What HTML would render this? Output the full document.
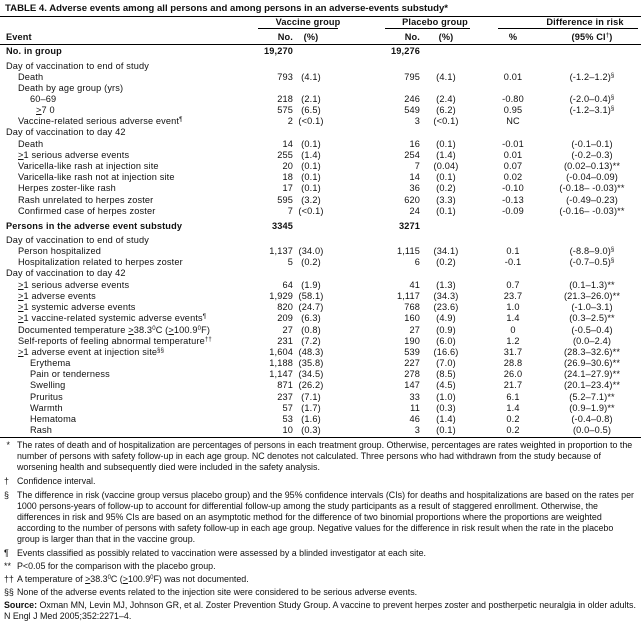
<!DOCTYPE html>
<html><head><meta charset="utf-8"><style>
body{margin:0;width:641px;height:613px;background:#fff;font-family:"Liberation Sans",Arial,sans-serif;color:#111;position:relative;overflow:hidden}
.t{position:absolute;left:5px;top:3px;font-size:9.6px;font-weight:bold;white-space:nowrap}
.hl{position:absolute;height:1px;background:#000}
.r{position:absolute;left:0;width:641px;height:11px;font-size:9.2px;letter-spacing:0.15px;line-height:11px;white-space:nowrap}
.r span{position:absolute;top:0}
.l{left:6px}.i1{left:18px}.i2{left:30px}
.vn{right:348px}.vp{left:291px;width:40px;text-align:center}
.pn{right:221px}.pp{left:426px;width:40px;text-align:center}
.dp{left:493px;width:40px;text-align:center}
.ci{left:552px;width:80px;text-align:center}
.b{font-weight:bold}
sup{font-size:6px;line-height:0;vertical-align:3px}
.fn{position:absolute;left:4px;width:634px;font-size:8.9px;line-height:11px}
.fn .m{position:absolute;left:0;top:0}
.fn .x{padding-left:13px;display:block}
</style></head><body>
<div class="t">TABLE 4. Adverse events among all persons and among persons in an adverse-events substudy*</div>
<div class="hl" style="left:0;width:641px;top:16px"></div>
<div class="r b" style="top:17px"><span style="left:258px;width:100px;text-align:center">Vaccine group</span><span style="left:385px;width:100px;text-align:center">Placebo group</span><span style="left:530px;width:110px;text-align:center">Difference in risk</span></div>
<div class="hl" style="left:258px;width:80px;top:28px"></div>
<div class="hl" style="left:385px;width:85px;top:28px"></div>
<div class="hl" style="left:498px;width:140px;top:28px"></div>
<div class="r b" style="top:32px"><span class="l">Event</span><span class="vn">No.</span><span class="vp">(%)</span><span class="pn">No.</span><span class="pp">(%)</span><span class="dp">%</span><span class="ci">(95% CI<sup>†</sup>)</span></div>
<div class="hl" style="left:0;width:641px;top:44px"></div>
<div class="r b" style="top:46px"><span class="l">No. in group</span><span class="vn">19,270</span><span class="pn">19,276</span></div>

<div class="r" style="top:61px"><span class="l">Day of vaccination to end of study</span></div>
<div class="r" style="top:72px"><span class="i1">Death</span><span class="vn">793</span><span class="vp">(4.1)</span><span class="pn">795</span><span class="pp">(4.1)</span><span class="dp">0.01</span><span class="ci">(-1.2–1.2)<sup>§</sup></span></div>
<div class="r" style="top:83px"><span class="i1">Death by age group (yrs)</span></div>
<div class="r" style="top:94px"><span class="i2">60–69</span><span class="vn">218</span><span class="vp">(2.1)</span><span class="pn">246</span><span class="pp">(2.4)</span><span class="dp">-0.80</span><span class="ci">(-2.0–0.4)<sup>§</sup></span></div>
<div class="r" style="top:105px"><span class="i2" style="left:36px"><u>&gt;</u>7 0</span><span class="vn">575</span><span class="vp">(6.5)</span><span class="pn">549</span><span class="pp">(6.2)</span><span class="dp">0.95</span><span class="ci">(-1.2–3.1)<sup>§</sup></span></div>
<div class="r" style="top:116px"><span class="i1">Vaccine-related serious adverse event<sup>¶</sup></span><span class="vn">2</span><span class="vp">(&lt;0.1)</span><span class="pn">3</span><span class="pp">(&lt;0.1)</span><span class="dp">NC</span></div>
<div class="r" style="top:127px"><span class="l">Day of vaccination to day 42</span></div>
<div class="r" style="top:139px"><span class="i1">Death</span><span class="vn">14</span><span class="vp">(0.1)</span><span class="pn">16</span><span class="pp">(0.1)</span><span class="dp">-0.01</span><span class="ci">(-0.1–0.1)</span></div>
<div class="r" style="top:150px"><span class="i1"><u>&gt;</u>1 serious adverse events</span><span class="vn">255</span><span class="vp">(1.4)</span><span class="pn">254</span><span class="pp">(1.4)</span><span class="dp">0.01</span><span class="ci">(-0.2–0.3)</span></div>
<div class="r" style="top:161px"><span class="i1">Varicella-like rash at injection site</span><span class="vn">20</span><span class="vp">(0.1)</span><span class="pn">7</span><span class="pp">(0.04)</span><span class="dp">0.07</span><span class="ci">(0.02–0.13)**</span></div>
<div class="r" style="top:172px"><span class="i1">Varicella-like rash not at injection site</span><span class="vn">18</span><span class="vp">(0.1)</span><span class="pn">14</span><span class="pp">(0.1)</span><span class="dp">0.02</span><span class="ci">(-0.04–0.09)</span></div>
<div class="r" style="top:183px"><span class="i1">Herpes zoster-like rash</span><span class="vn">17</span><span class="vp">(0.1)</span><span class="pn">36</span><span class="pp">(0.2)</span><span class="dp">-0.10</span><span class="ci">(-0.18– -0.03)**</span></div>
<div class="r" style="top:195px"><span class="i1">Rash unrelated to herpes zoster</span><span class="vn">595</span><span class="vp">(3.2)</span><span class="pn">620</span><span class="pp">(3.3)</span><span class="dp">-0.13</span><span class="ci">(-0.49–0.23)</span></div>
<div class="r" style="top:206px"><span class="i1">Confirmed case of herpes zoster</span><span class="vn">7</span><span class="vp">(&lt;0.1)</span><span class="pn">24</span><span class="pp">(0.1)</span><span class="dp">-0.09</span><span class="ci">(-0.16– -0.03)**</span></div>
<div class="r b" style="top:221px"><span class="l">Persons in the adverse event substudy</span><span class="vn">3345</span><span class="pn">3271</span></div>
<div class="r" style="top:235px"><span class="l">Day of vaccination to end of study</span></div>
<div class="r" style="top:246px"><span class="i1">Person hospitalized</span><span class="vn">1,137</span><span class="vp">(34.0)</span><span class="pn">1,115</span><span class="pp">(34.1)</span><span class="dp">0.1</span><span class="ci">(-8.8–9.0)<sup>§</sup></span></div>
<div class="r" style="top:257px"><span class="i1">Hospitalization related to herpes zoster</span><span class="vn">5</span><span class="vp">(0.2)</span><span class="pn">6</span><span class="pp">(0.2)</span><span class="dp">-0.1</span><span class="ci">(-0.7–0.5)<sup>§</sup></span></div>
<div class="r" style="top:268px"><span class="l">Day of vaccination to day 42</span></div>
<div class="r" style="top:280px"><span class="i1"><u>&gt;</u>1 serious adverse events</span><span class="vn">64</span><span class="vp">(1.9)</span><span class="pn">41</span><span class="pp">(1.3)</span><span class="dp">0.7</span><span class="ci">(0.1–1.3)**</span></div>
<div class="r" style="top:291px"><span class="i1"><u>&gt;</u>1 adverse events</span><span class="vn">1,929</span><span class="vp">(58.1)</span><span class="pn">1,117</span><span class="pp">(34.3)</span><span class="dp">23.7</span><span class="ci">(21.3–26.0)**</span></div>
<div class="r" style="top:302px"><span class="i1"><u>&gt;</u>1 systemic adverse events</span><span class="vn">820</span><span class="vp">(24.7)</span><span class="pn">768</span><span class="pp">(23.6)</span><span class="dp">1.0</span><span class="ci">(-1.0–3.1)</span></div>
<div class="r" style="top:313px"><span class="i1"><u>&gt;</u>1 vaccine-related systemic adverse events<sup>¶</sup></span><span class="vn">209</span><span class="vp">(6.3)</span><span class="pn">160</span><span class="pp">(4.9)</span><span class="dp">1.4</span><span class="ci">(0.3–2.5)**</span></div>
<div class="r" style="top:325px"><span class="i1">Documented temperature <u>&gt;</u>38.3<sup>0</sup>C (<u>&gt;</u>100.9<sup>0</sup>F)</span><span class="vn">27</span><span class="vp">(0.8)</span><span class="pn">27</span><span class="pp">(0.9)</span><span class="dp">0</span><span class="ci">(-0.5–0.4)</span></div>
<div class="r" style="top:336px"><span class="i1">Self-reports of feeling abnormal temperature<sup>††</sup></span><span class="vn">231</span><span class="vp">(7.2)</span><span class="pn">190</span><span class="pp">(6.0)</span><span class="dp">1.2</span><span class="ci">(0.0–2.4)</span></div>
<div class="r" style="top:347px"><span class="i1"><u>&gt;</u>1 adverse event at injection site<sup>§§</sup></span><span class="vn">1,604</span><span class="vp">(48.3)</span><span class="pn">539</span><span class="pp">(16.6)</span><span class="dp">31.7</span><span class="ci">(28.3–32.6)**</span></div>
<div class="r" style="top:358px"><span class="i2">Erythema</span><span class="vn">1,188</span><span class="vp">(35.8)</span><span class="pn">227</span><span class="pp">(7.0)</span><span class="dp">28.8</span><span class="ci">(26.9–30.6)**</span></div>
<div class="r" style="top:369px"><span class="i2">Pain or tenderness</span><span class="vn">1,147</span><span class="vp">(34.5)</span><span class="pn">278</span><span class="pp">(8.5)</span><span class="dp">26.0</span><span class="ci">(24.1–27.9)**</span></div>
<div class="r" style="top:380px"><span class="i2">Swelling</span><span class="vn">871</span><span class="vp">(26.2)</span><span class="pn">147</span><span class="pp">(4.5)</span><span class="dp">21.7</span><span class="ci">(20.1–23.4)**</span></div>
<div class="r" style="top:392px"><span class="i2">Pruritus</span><span class="vn">237</span><span class="vp">(7.1)</span><span class="pn">33</span><span class="pp">(1.0)</span><span class="dp">6.1</span><span class="ci">(5.2–7.1)**</span></div>
<div class="r" style="top:403px"><span class="i2">Warmth</span><span class="vn">57</span><span class="vp">(1.7)</span><span class="pn">11</span><span class="pp">(0.3)</span><span class="dp">1.4</span><span class="ci">(0.9–1.9)**</span></div>
<div class="r" style="top:414px"><span class="i2">Hematoma</span><span class="vn">53</span><span class="vp">(1.6)</span><span class="pn">46</span><span class="pp">(1.4)</span><span class="dp">0.2</span><span class="ci">(-0.4–0.8)</span></div>
<div class="r" style="top:425px"><span class="i2">Rash</span><span class="vn">10</span><span class="vp">(0.3)</span><span class="pn">3</span><span class="pp">(0.1)</span><span class="dp">0.2</span><span class="ci">(0.0–0.5)</span></div>
<div class="hl" style="left:0;width:641px;top:437px"></div>

<div class="fn" style="top:440px"><span class="m">&nbsp;*</span><span class="x">The rates of death and of hospitalization are percentages of persons in each treatment group. Otherwise, percentages are rates weighted in proportion to the number of persons with safety follow-up in each age group. NC denotes not calculated. Three persons who had withdrawn from the study because of worsening health and subsequently died were included in the safety analysis.</span></div>
<div class="fn" style="top:476px"><span class="m">†</span><span class="x">Confidence interval.</span></div>
<div class="fn" style="top:490px"><span class="m">§</span><span class="x">The difference in risk (vaccine group versus placebo group) and the 95% confidence intervals (CIs) for deaths and hospitalizations are based on the rates per 1000 persons-years of follow-up to account for differential follow-up among the study participants as a result of staggered enrollment. Otherwise, the differences in risk and 95% CIs are based on an asymptotic method for the difference of two binomial proportions where the proportions are weighted according to the number of persons with safety follow-up in each age group. Negative values for the difference in risk result when the rate in the placebo group is larger than that in the vaccine group.</span></div>
<div class="fn" style="top:548px"><span class="m">¶</span><span class="x">Events classified as possibly related to vaccination were assessed by a blinded investigator at each site.</span></div>
<div class="fn" style="top:561px"><span class="m">**</span><span class="x">P&lt;0.05 for the comparison with the placebo group.</span></div>
<div class="fn" style="top:574px"><span class="m">††</span><span class="x">A temperature of <u>&gt;</u>38.3<sup>0</sup>C (<u>&gt;</u>100.9<sup>0</sup>F) was not documented.</span></div>
<div class="fn" style="top:587px"><span class="m">§§</span><span class="x">None of the adverse events related to the injection site were considered to be serious adverse events.</span></div>
<div class="fn" style="top:600px;left:4px"><b>Source:</b> Oxman MN, Levin MJ, Johnson GR, et al. Zoster Prevention Study Group. A vaccine to prevent herpes zoster and postherpetic neuralgia in older adults. N Engl J Med 2005;352:2271–4.</div>
</body></html>
